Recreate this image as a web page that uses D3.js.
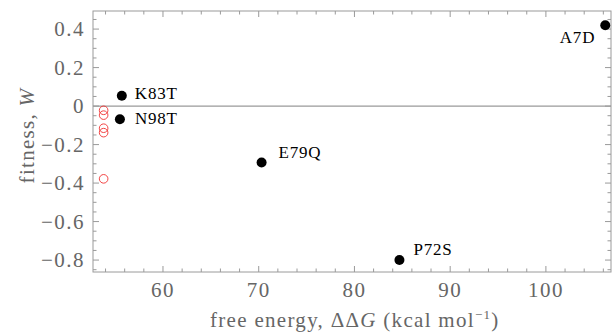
<!DOCTYPE html>
<html>
<head>
<meta charset="utf-8">
<script src="https://cdn.jsdelivr.net/npm/d3@7"></script>
<style>
  body { margin: 0; background: #fff; }
</style>
</head>
<body>
<svg id="chart" width="612" height="333"></svg>
<script>
// mutants with labels
var names = ['A7D', 'K83T', 'N98T', 'E79Q', 'P72S'];
var energy = [106.2, 55.7, 55.5, 70.3, 84.7];
var fitness = [0.42, 0.054, -0.068, -0.293, -0.80];

// unlabeled (red open circles)
var otherEnergy = [53.8, 53.8, 53.8, 53.8, 53.8];
var otherFitness = [-0.022, -0.047, -0.115, -0.138, -0.378];

var xTicks = [60, 70, 80, 90, 100];
var yTicks = [-0.8, -0.6, -0.4, -0.2, 0, 0.2, 0.4];

// label placement relative to the dot
var labelOffset = {
  A7D: [-10, 18, 'end'],
  K83T: [13, 3.5, 'start'],
  N98T: [15, 5, 'start'],
  E79Q: [17, -4, 'start'],
  P72S: [14, -5, 'start']
};

var svg = d3.select('#chart').attr('font-family', 'Liberation Serif');
var mLeft = 93, mRight = 611, mTop = 11, mBottom = 272;

var x = d3.scaleLinear().domain([52.69, 106.8]).range([mLeft, mRight]);
var y = d3.scaleLinear().domain([-0.862, 0.494]).range([mBottom, mTop]);

var axisColor = '#9a9a9a';
var labelColor = '#666';

// frame
svg.append('rect')
  .attr('x', mLeft).attr('y', mTop)
  .attr('width', mRight - mLeft).attr('height', mBottom - mTop)
  .attr('fill', 'none').attr('stroke', axisColor).attr('stroke-width', 1);

// ticks drawn inward on all four sides
var xMinor = d3.range(54, 107, 2);
var yMinor = d3.range(-0.85, 0.50, 0.05);

var ticks = svg.append('g').attr('stroke', axisColor).attr('stroke-width', 1);
xMinor.forEach(function (v) {
  var major = xTicks.indexOf(Math.round(v)) >= 0;
  var len = major ? 6 : 3.5;
  ticks.append('line').attr('x1', x(v)).attr('x2', x(v)).attr('y1', mBottom).attr('y2', mBottom - len);
  ticks.append('line').attr('x1', x(v)).attr('x2', x(v)).attr('y1', mTop).attr('y2', mTop + len);
});
yMinor.forEach(function (v) {
  var r = Math.round(v * 100) / 100;
  var major = yTicks.some(function (t) { return Math.abs(t - r) < 1e-6; });
  var len = major ? 6 : 3.5;
  ticks.append('line').attr('y1', y(r)).attr('y2', y(r)).attr('x1', mLeft).attr('x2', mLeft + len);
  ticks.append('line').attr('y1', y(r)).attr('y2', y(r)).attr('x1', mRight).attr('x2', mRight - len);
});

// zero line
svg.append('line')
  .attr('x1', mLeft).attr('x2', mRight)
  .attr('y1', y(0)).attr('y2', y(0))
  .attr('stroke', axisColor).attr('stroke-width', 1.2);

// tick labels
svg.append('g').selectAll('text').data(xTicks).enter().append('text')
  .attr('x', function (d) { return x(d); })
  .attr('y', mBottom + 25)
  .attr('text-anchor', 'middle')
  .attr('font-size', 21)
  .attr('letter-spacing', 1.5)
  .attr('fill', labelColor)
  .text(function (d) { return d; });

svg.append('g').selectAll('text').data(yTicks).enter().append('text')
  .attr('x', mLeft - 8)
  .attr('y', function (d) { return y(d) + 7; })
  .attr('text-anchor', 'end')
  .attr('font-size', 21)
  .attr('letter-spacing', 1.5)
  .attr('fill', labelColor)
  .text(function (d) { return d === 0 ? '0' : d3.format('.1f')(d).replace('-', '\u2013'); });

// axis titles
var xl = svg.append('text')
  .attr('x', 210)
  .attr('y', 327)
  .attr('font-size', 21)
  .attr('letter-spacing', 1.3)
  .attr('fill', labelColor);
xl.append('tspan').text('free energy, \u0394\u0394');
xl.append('tspan').attr('font-style', 'italic').text('G');
xl.append('tspan').text(' (kcal mol');
xl.append('tspan').attr('font-size', 13).attr('dy', -8).text('\u22121');
xl.append('tspan').attr('dy', 8).text(')');

var yl = svg.append('text')
  .attr('transform', 'translate(34,135.5) rotate(-90)')
  .attr('text-anchor', 'middle')
  .attr('font-size', 21)
  .attr('letter-spacing', 1.3)
  .attr('fill', labelColor);
yl.append('tspan').text('fitness, ');
yl.append('tspan').attr('font-style', 'italic').text('W');

// red open circles
svg.append('g').selectAll('circle').data(otherEnergy).enter().append('circle')
  .attr('cx', function (d) { return x(d); })
  .attr('cy', function (d, i) { return y(otherFitness[i]); })
  .attr('r', 4.3)
  .attr('fill', 'none')
  .attr('stroke', '#f03030')
  .attr('stroke-width', 0.9);

// labeled points
svg.append('g').selectAll('circle').data(energy).enter().append('circle')
  .attr('cx', function (d) { return x(d); })
  .attr('cy', function (d, i) { return y(fitness[i]); })
  .attr('r', 5)
  .attr('fill', '#000');

svg.append('g').selectAll('text').data(names).enter().append('text')
  .attr('x', function (d, i) { return x(energy[i]) + labelOffset[d][0]; })
  .attr('y', function (d, i) { return y(fitness[i]) + labelOffset[d][1]; })
  .attr('text-anchor', function (d) { return labelOffset[d][2]; })
  .attr('font-size', 17)
  .attr('letter-spacing', 0.8)
  .attr('fill', '#000')
  .text(function (d) { return d; });
</script>
</body>
</html>
